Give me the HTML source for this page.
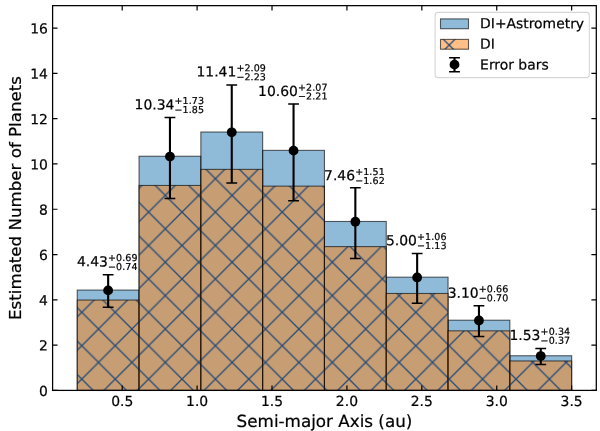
<!DOCTYPE html>
<html><head><meta charset="utf-8"><title>Estimated Number of Planets</title>
<style>html,body{margin:0;padding:0;background:#fff}body{width:600px;height:431px;overflow:hidden}svg{display:block}text{font-family:"DejaVu Sans","Liberation Sans",sans-serif;fill:#000;stroke:#000;stroke-width:0.22px}</style></head><body>
<svg width="600" height="431" viewBox="0 0 600 431">
<defs>
<pattern id="hx" patternUnits="userSpaceOnUse" x="98.5" y="362.4" width="33.4" height="33.4"><path d="M0 0L33.4 33.4M33.4 0L0 33.4M-16.7 16.7L16.7 -16.7M16.7 -16.7" stroke="#264b76" stroke-width="1.3" fill="none" stroke-linecap="square"/></pattern>
<clipPath id="ax"><rect x="52.6" y="5.65" width="543.6999999999999" height="384.75"/></clipPath>
</defs>
<rect width="600" height="431" fill="#fff"/>
<g clip-path="url(#ax)">
<rect x="77.25" y="290.08" width="61.80" height="100.32" fill="#1f77b4" fill-opacity="0.5" stroke="#000" stroke-opacity="0.62" stroke-width="1.1"/>
<rect x="139.05" y="156.25" width="61.80" height="234.15" fill="#1f77b4" fill-opacity="0.5" stroke="#000" stroke-opacity="0.62" stroke-width="1.1"/>
<rect x="200.85" y="132.02" width="61.80" height="258.38" fill="#1f77b4" fill-opacity="0.5" stroke="#000" stroke-opacity="0.62" stroke-width="1.1"/>
<rect x="262.65" y="150.36" width="61.80" height="240.04" fill="#1f77b4" fill-opacity="0.5" stroke="#000" stroke-opacity="0.62" stroke-width="1.1"/>
<rect x="324.45" y="221.47" width="61.80" height="168.93" fill="#1f77b4" fill-opacity="0.5" stroke="#000" stroke-opacity="0.62" stroke-width="1.1"/>
<rect x="386.25" y="277.17" width="61.80" height="113.23" fill="#1f77b4" fill-opacity="0.5" stroke="#000" stroke-opacity="0.62" stroke-width="1.1"/>
<rect x="448.05" y="320.20" width="61.80" height="70.20" fill="#1f77b4" fill-opacity="0.5" stroke="#000" stroke-opacity="0.62" stroke-width="1.1"/>
<rect x="509.85" y="355.75" width="61.80" height="34.65" fill="#1f77b4" fill-opacity="0.5" stroke="#000" stroke-opacity="0.62" stroke-width="1.1"/>
<rect x="77.25" y="300.05" width="61.80" height="90.35" fill="#ff7f0e" fill-opacity="0.5"/>
<rect x="77.25" y="300.05" width="61.80" height="90.35" fill="url(#hx)"/>
<rect x="77.25" y="300.05" width="61.80" height="90.35" fill="none" stroke="#000" stroke-opacity="0.62" stroke-width="1.1"/>
<rect x="139.05" y="185.46" width="61.80" height="204.94" fill="#ff7f0e" fill-opacity="0.5"/>
<rect x="139.05" y="185.46" width="61.80" height="204.94" fill="url(#hx)"/>
<rect x="139.05" y="185.46" width="61.80" height="204.94" fill="none" stroke="#000" stroke-opacity="0.62" stroke-width="1.1"/>
<rect x="200.85" y="169.38" width="61.80" height="221.02" fill="#ff7f0e" fill-opacity="0.5"/>
<rect x="200.85" y="169.38" width="61.80" height="221.02" fill="url(#hx)"/>
<rect x="200.85" y="169.38" width="61.80" height="221.02" fill="none" stroke="#000" stroke-opacity="0.62" stroke-width="1.1"/>
<rect x="262.65" y="186.14" width="61.80" height="204.26" fill="#ff7f0e" fill-opacity="0.5"/>
<rect x="262.65" y="186.14" width="61.80" height="204.26" fill="url(#hx)"/>
<rect x="262.65" y="186.14" width="61.80" height="204.26" fill="none" stroke="#000" stroke-opacity="0.62" stroke-width="1.1"/>
<rect x="324.45" y="246.60" width="61.80" height="143.80" fill="#ff7f0e" fill-opacity="0.5"/>
<rect x="324.45" y="246.60" width="61.80" height="143.80" fill="url(#hx)"/>
<rect x="324.45" y="246.60" width="61.80" height="143.80" fill="none" stroke="#000" stroke-opacity="0.62" stroke-width="1.1"/>
<rect x="386.25" y="293.48" width="61.80" height="96.92" fill="#ff7f0e" fill-opacity="0.5"/>
<rect x="386.25" y="293.48" width="61.80" height="96.92" fill="url(#hx)"/>
<rect x="386.25" y="293.48" width="61.80" height="96.92" fill="none" stroke="#000" stroke-opacity="0.62" stroke-width="1.1"/>
<rect x="448.05" y="330.84" width="61.80" height="59.56" fill="#ff7f0e" fill-opacity="0.5"/>
<rect x="448.05" y="330.84" width="61.80" height="59.56" fill="url(#hx)"/>
<rect x="448.05" y="330.84" width="61.80" height="59.56" fill="none" stroke="#000" stroke-opacity="0.62" stroke-width="1.1"/>
<rect x="509.85" y="360.96" width="61.80" height="29.44" fill="#ff7f0e" fill-opacity="0.5"/>
<rect x="509.85" y="360.96" width="61.80" height="29.44" fill="url(#hx)"/>
<rect x="509.85" y="360.96" width="61.80" height="29.44" fill="none" stroke="#000" stroke-opacity="0.62" stroke-width="1.1"/>
</g>
<path d="M108.15 274.86V307.24" stroke="#000" stroke-width="2.1" fill="none"/>
<path d="M102.75 274.86H113.55M102.75 307.24H113.55" stroke="#000" stroke-width="1.5" fill="none"/>
<circle cx="108.15" cy="290.38" r="4.9" fill="#000"/>
<path d="M169.95 117.47V198.54" stroke="#000" stroke-width="2.1" fill="none"/>
<path d="M164.55 117.47H175.35M164.55 198.54H175.35" stroke="#000" stroke-width="1.5" fill="none"/>
<circle cx="169.95" cy="156.55" r="4.9" fill="#000"/>
<path d="M231.75 85.09V182.92" stroke="#000" stroke-width="2.1" fill="none"/>
<path d="M226.35 85.09H237.15M226.35 182.92H237.15" stroke="#000" stroke-width="1.5" fill="none"/>
<circle cx="231.75" cy="132.32" r="4.9" fill="#000"/>
<path d="M293.55 103.89V200.81" stroke="#000" stroke-width="2.1" fill="none"/>
<path d="M288.15 103.89H298.95M288.15 200.81H298.95" stroke="#000" stroke-width="1.5" fill="none"/>
<circle cx="293.55" cy="150.66" r="4.9" fill="#000"/>
<path d="M355.35 187.67V258.55" stroke="#000" stroke-width="2.1" fill="none"/>
<path d="M349.95 187.67H360.75M349.95 258.55H360.75" stroke="#000" stroke-width="1.5" fill="none"/>
<circle cx="355.35" cy="221.77" r="4.9" fill="#000"/>
<path d="M417.15 253.57V303.16" stroke="#000" stroke-width="2.1" fill="none"/>
<path d="M411.75 253.57H422.55M411.75 303.16H422.55" stroke="#000" stroke-width="1.5" fill="none"/>
<circle cx="417.15" cy="277.47" r="4.9" fill="#000"/>
<path d="M478.95 305.65V336.45" stroke="#000" stroke-width="2.1" fill="none"/>
<path d="M473.55 305.65H484.35M473.55 336.45H484.35" stroke="#000" stroke-width="1.5" fill="none"/>
<circle cx="478.95" cy="320.50" r="4.9" fill="#000"/>
<path d="M540.75 348.45V364.53" stroke="#000" stroke-width="2.1" fill="none"/>
<path d="M535.35 348.45H546.15M535.35 364.53H546.15" stroke="#000" stroke-width="1.5" fill="none"/>
<circle cx="540.75" cy="356.05" r="4.9" fill="#000"/>
<path d="M122.20 390.4v-4.9M122.20 5.65v4.9M197.10 390.4v-4.9M197.10 5.65v4.9M272.01 390.4v-4.9M272.01 5.65v4.9M346.92 390.4v-4.9M346.92 5.65v4.9M421.83 390.4v-4.9M421.83 5.65v4.9M496.74 390.4v-4.9M496.74 5.65v4.9M571.65 390.4v-4.9M571.65 5.65v4.9M52.6 390.40h4.9M596.3 390.40h-4.9M52.6 345.11h4.9M596.3 345.11h-4.9M52.6 299.82h4.9M596.3 299.82h-4.9M52.6 254.53h4.9M596.3 254.53h-4.9M52.6 209.24h4.9M596.3 209.24h-4.9M52.6 163.95h4.9M596.3 163.95h-4.9M52.6 118.66h4.9M596.3 118.66h-4.9M52.6 73.37h4.9M596.3 73.37h-4.9M52.6 28.08h4.9M596.3 28.08h-4.9" stroke="#000" stroke-width="1.2" fill="none"/>
<rect x="52.6" y="5.65" width="543.6999999999999" height="384.75" fill="none" stroke="#000" stroke-width="1.25"/>
<text transform="translate(122.20 406.00) rotate(0.05)" font-size="13.9" text-anchor="middle">0.5</text>
<text transform="translate(197.10 406.00) rotate(0.05)" font-size="13.9" text-anchor="middle">1.0</text>
<text transform="translate(272.01 406.00) rotate(0.05)" font-size="13.9" text-anchor="middle">1.5</text>
<text transform="translate(346.92 406.00) rotate(0.05)" font-size="13.9" text-anchor="middle">2.0</text>
<text transform="translate(421.83 406.00) rotate(0.05)" font-size="13.9" text-anchor="middle">2.5</text>
<text transform="translate(496.74 406.00) rotate(0.05)" font-size="13.9" text-anchor="middle">3.0</text>
<text transform="translate(571.65 406.00) rotate(0.05)" font-size="13.9" text-anchor="middle">3.5</text>
<text transform="translate(47.90 395.90) rotate(0.05)" font-size="13.9" text-anchor="end">0</text>
<text transform="translate(47.90 350.61) rotate(0.05)" font-size="13.9" text-anchor="end">2</text>
<text transform="translate(47.90 305.32) rotate(0.05)" font-size="13.9" text-anchor="end">4</text>
<text transform="translate(47.90 260.03) rotate(0.05)" font-size="13.9" text-anchor="end">6</text>
<text transform="translate(47.90 214.74) rotate(0.05)" font-size="13.9" text-anchor="end">8</text>
<text transform="translate(47.90 169.45) rotate(0.05)" font-size="13.9" text-anchor="end">10</text>
<text transform="translate(47.90 124.16) rotate(0.05)" font-size="13.9" text-anchor="end">12</text>
<text transform="translate(47.90 78.87) rotate(0.05)" font-size="13.9" text-anchor="end">14</text>
<text transform="translate(47.90 33.58) rotate(0.05)" font-size="13.9" text-anchor="end">16</text>
<text transform="translate(324.45 427.05) rotate(0.05)" font-size="16.75" text-anchor="middle">Semi-major Axis (au)</text>
<text transform="translate(20.5 198.02) rotate(-90)" font-size="16.67" text-anchor="middle">Estimated Number of Planets</text>
<text transform="translate(76.92 266.36) rotate(0.05)" font-size="13.9" text-anchor="start">4.43</text>
<text transform="translate(107.97 261.06) rotate(0.05)" font-size="9.5" text-anchor="start" letter-spacing="0.1">+0.69</text>
<text transform="translate(107.97 269.96) rotate(0.05)" font-size="9.5" text-anchor="start" letter-spacing="0.1">−0.74</text>
<text transform="translate(134.60 109.37) rotate(0.05)" font-size="13.9" text-anchor="start">10.34</text>
<text transform="translate(174.49 104.07) rotate(0.05)" font-size="9.5" text-anchor="start" letter-spacing="0.1">+1.73</text>
<text transform="translate(174.49 112.97) rotate(0.05)" font-size="9.5" text-anchor="start" letter-spacing="0.1">−1.85</text>
<text transform="translate(196.50 76.59) rotate(0.05)" font-size="13.9" text-anchor="start">11.41</text>
<text transform="translate(236.39 71.29) rotate(0.05)" font-size="9.5" text-anchor="start" letter-spacing="0.1">+2.09</text>
<text transform="translate(236.39 80.19) rotate(0.05)" font-size="9.5" text-anchor="start" letter-spacing="0.1">−2.23</text>
<text transform="translate(258.10 95.99) rotate(0.05)" font-size="13.9" text-anchor="start">10.60</text>
<text transform="translate(297.99 90.69) rotate(0.05)" font-size="9.5" text-anchor="start" letter-spacing="0.1">+2.07</text>
<text transform="translate(297.99 99.59) rotate(0.05)" font-size="9.5" text-anchor="start" letter-spacing="0.1">−2.21</text>
<text transform="translate(324.12 180.27) rotate(0.05)" font-size="13.9" text-anchor="start">7.46</text>
<text transform="translate(355.17 174.97) rotate(0.05)" font-size="9.5" text-anchor="start" letter-spacing="0.1">+1.51</text>
<text transform="translate(355.17 183.87) rotate(0.05)" font-size="9.5" text-anchor="start" letter-spacing="0.1">−1.62</text>
<text transform="translate(385.92 245.27) rotate(0.05)" font-size="13.9" text-anchor="start">5.00</text>
<text transform="translate(416.97 239.97) rotate(0.05)" font-size="9.5" text-anchor="start" letter-spacing="0.1">+1.06</text>
<text transform="translate(416.97 248.87) rotate(0.05)" font-size="9.5" text-anchor="start" letter-spacing="0.1">−1.13</text>
<text transform="translate(447.72 297.65) rotate(0.05)" font-size="13.9" text-anchor="start">3.10</text>
<text transform="translate(478.77 292.35) rotate(0.05)" font-size="9.5" text-anchor="start" letter-spacing="0.1">+0.66</text>
<text transform="translate(478.77 301.25) rotate(0.05)" font-size="9.5" text-anchor="start" letter-spacing="0.1">−0.70</text>
<text transform="translate(509.52 340.05) rotate(0.05)" font-size="13.9" text-anchor="start">1.53</text>
<text transform="translate(540.57 334.75) rotate(0.05)" font-size="9.5" text-anchor="start" letter-spacing="0.1">+0.34</text>
<text transform="translate(540.57 343.65) rotate(0.05)" font-size="9.5" text-anchor="start" letter-spacing="0.1">−0.37</text>
<rect x="435.1" y="12.4" width="154.2" height="65.2" rx="2.8" fill="#fff" fill-opacity="0.8" stroke="#ccc" stroke-opacity="0.8" stroke-width="1.1"/>
<rect x="440.5" y="18.9" width="28" height="9.8" fill="#1f77b4" fill-opacity="0.5" stroke="#000" stroke-opacity="0.62" stroke-width="1.1"/>
<rect x="440.5" y="39.4" width="28" height="9.8" fill="#ff7f0e" fill-opacity="0.5"/>
<rect x="440.5" y="39.4" width="28" height="9.8" fill="url(#hx)"/>
<rect x="440.5" y="39.4" width="28" height="9.8" fill="none" stroke="#000" stroke-opacity="0.62" stroke-width="1.1"/>
<path d="M454.5 57.650000000000006V71.65" stroke="#000" stroke-width="2.1"/><path d="M449.1 57.650000000000006h10.8M449.1 71.65h10.8" stroke="#000" stroke-width="1.5"/><circle cx="454.5" cy="64.65" r="4.9"/>
<text transform="translate(480.10 28.30) rotate(0.05)" font-size="13.9" text-anchor="start">DI+Astrometry</text>
<text transform="translate(480.10 48.80) rotate(0.05)" font-size="13.9" text-anchor="start">DI</text>
<text transform="translate(480.10 69.40) rotate(0.05)" font-size="13.9" text-anchor="start">Error bars</text>
</svg></body></html>
